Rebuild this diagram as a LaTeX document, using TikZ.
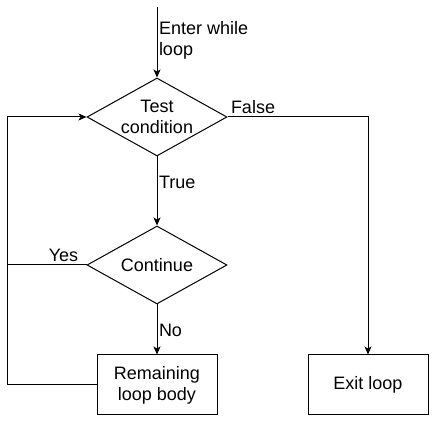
\documentclass[tikz,border=0pt]{standalone}
\usepackage{fontspec}
\setmainfont{Liberation Sans}
\usepackage{tikz}
\usetikzlibrary{shapes.geometric}
\usetikzlibrary{arrows.meta}
\tikzstyle{decision} = [diamond, draw, line width=1pt, aspect=1.8, minimum width=140pt, minimum height=78pt, inner sep=-1pt, align=center]
\tikzstyle{block} = [rectangle, draw, line width=1pt, minimum width=120pt, minimum height=60pt, align=center]
\tikzstyle{line} = [draw, line width=1pt]
\tikzstyle{arrow} = [line, -{Stealth[length=8pt,width=7pt,inset=2pt]}]
\tikzstyle{lbl} = [inner sep=1.5pt, align=left]

\begin{document}
\begin{tikzpicture}[x=1pt, y=1pt, font=\fontsize{18}{21}\selectfont]
\useasboundingbox (0,0) rectangle (440,427);
\coordinate (entry) at (157,420);
\node[decision] (test) at (157,310) {Test\\condition};
\node[decision] (cont) at (157,162) {Continue};
\node[block] (body) at (157,42) {Remaining\\loop body};
\node[block] (exit) at (368,42) {Exit loop};
\coordinate (back) at (7,42);

% way in
\draw[arrow] (entry) -- node[lbl, anchor=west, pos=0.48] {Enter while\\loop} (test);
% test outcomes
\draw[arrow] (test) -- node[lbl, anchor=west, pos=0.37] {True} (cont);
\draw[arrow] (test.east) -| (exit.north)
    node[lbl, anchor=south west, pos=0, inner sep=3pt] {False};
% continue outcomes
\draw[arrow] (cont) -- node[lbl, anchor=west, pos=0.52] {No} (body);
\draw[line] (cont.west) -- node[lbl, anchor=south, pos=0.29, inner sep=3pt] {Yes} (cont.west -| back);
% loop back
\draw[arrow] (body.west) -- (back) |- (test.west);
\end{tikzpicture}
\end{document}
